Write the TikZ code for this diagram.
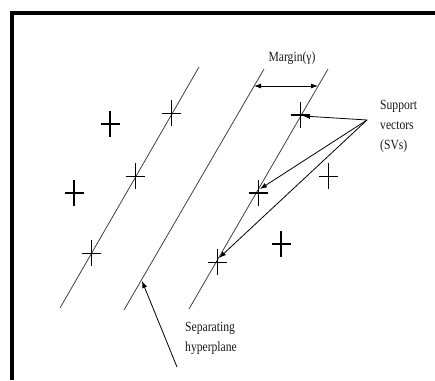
\documentclass[tikz,border=0pt]{standalone}
\usepackage{fontspec}
\setmainfont{Liberation Serif}
\newfontfamily\labelfont[FakeStretch=0.83]{Liberation Serif}
\usetikzlibrary{arrows.meta,calc}
\tikzset{
  plane/.style={line width=0.8pt, draw=black!75},
  arrow/.style={-{Latex[length=7pt,width=5pt]}, line width=0.8pt, draw=black},
  dblarrow/.style={{Latex[length=7pt,width=5pt]}-{Latex[length=7pt,width=5pt]}, line width=0.9pt, draw=black},
  label/.style={font=\labelfont\fontsize{14}{20}\selectfont, align=left, inner sep=0pt, text=black!90},
  thinplus/.pic={\draw[line width=0.8pt] (-9.5,0) -- (9.5,0) (0,-13) -- (0,13);},
  boldplus/.pic={\draw[line width=1.5pt] (-9.5,0) -- (9.5,0) (0,-13) -- (0,13);},
  svplus/.pic={\draw[line width=1.6pt] (-9.5,0) -- (9.5,0);
                \draw[line width=0.8pt] (0,-13) -- (0,13);}
}

\begin{document}
\begin{tikzpicture}[x=1pt,y=-1pt]
  \useasboundingbox (0,0) rectangle (435,380);
  % frame
  \draw[line width=4pt] (12,380) -- (12,13) -- (435,13);

  % margin and separating lines
  \coordinate (l1a) at (60,308);  \coordinate (l1b) at (199,67);
  \coordinate (l2a) at (124,310); \coordinate (l2b) at (264,69);
  \coordinate (l3a) at (189,309); \coordinate (l3b) at (328,69);
  \draw[plane] (l1a) -- (l1b);
  \draw[plane] (l2a) -- (l2b);
  \draw[plane] (l3a) -- (l3b);

  % points
  \pic at (110,124) {boldplus};
  \pic at (74,193) {boldplus};
  \pic at (135,176) {thinplus};
  \pic at (171,113) {thinplus};
  \pic at (91,253) {thinplus};
  \pic at (328,176) {thinplus};
  \pic at (281,244) {boldplus};
  \coordinate (sv1) at (300,115);
  \coordinate (sv2) at (258,193);
  \coordinate (sv3) at (217,262);
  \pic at (sv1) {svplus};
  \pic at (sv2) {svplus};
  \pic at (sv3) {thinplus};

  % margin
  \coordinate (m1) at (254,86);
  \coordinate (m2) at (318,86);
  \draw[dblarrow] (m1) -- (m2);
  \node[label] (margin) at (292,58) {Margin(γ)};

  % support vectors
  \node[label, anchor=west] (svtext) at (380,126) {Support\\vectors\\(SVs)};
  \coordinate (svtip) at (367,120);
  \draw[arrow] (svtip) -- ($(sv1)+(3,1)$);
  \draw[arrow] (svtip) -- ($(sv2)+(2,-4)$);
  \draw[arrow] (svtip) -- ($(sv3)+(2,-4)$);

  % separating hyperplane
  \node[label] (hptext) at (211,338) {Separating\\hyperplane};
  \coordinate (hpfoot) at (177,367);
  \coordinate (hppt) at (142,281);
  \draw[arrow] (hpfoot) -- (hppt);
\end{tikzpicture}
\end{document}
